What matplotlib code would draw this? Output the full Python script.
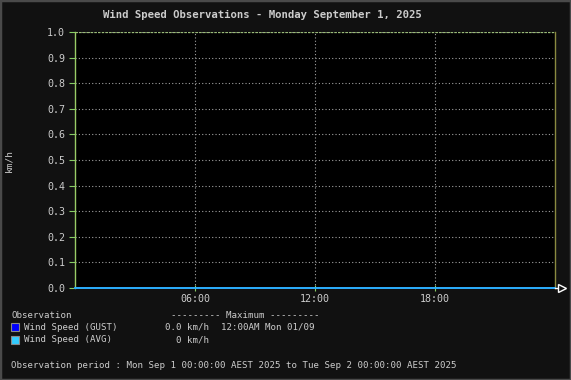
import matplotlib
matplotlib.use("Agg")
import matplotlib.pyplot as plt
from matplotlib.patches import Rectangle
import numpy as np

# ---- data ----
hours = [0, 1, 2, 3, 4, 5, 6, 7, 8, 9, 10, 11, 12, 13, 14, 15, 16, 17, 18, 19, 20, 21, 22, 23, 24]
gust = [0.0, 0.0, 0.0, 0.0, 0.0, 0.0, 0.0, 0.0, 0.0, 0.0, 0.0, 0.0, 0.0,
        0.0, 0.0, 0.0, 0.0, 0.0, 0.0, 0.0, 0.0, 0.0, 0.0, 0.0, 0.0]
avg = [0.0, 0.0, 0.0, 0.0, 0.0, 0.0, 0.0, 0.0, 0.0, 0.0, 0.0, 0.0, 0.0,
       0.0, 0.0, 0.0, 0.0, 0.0, 0.0, 0.0, 0.0, 0.0, 0.0, 0.0, 0.0]
x_ticks = [6, 12, 18]
x_tick_labels = ["06:00", "12:00", "18:00"]
y_ticks = [0.0, 0.1, 0.2, 0.3, 0.4, 0.5, 0.6, 0.7, 0.8, 0.9, 1.0]
y_tick_labels = ["0.0", "0.1", "0.2", "0.3", "0.4", "0.5", "0.6", "0.7", "0.8", "0.9", "1.0"]

title = "Wind Speed Observations - Monday September 1, 2025"
ylabel = "km/h"
series_names = ["Wind Speed (GUST)", "Wind Speed (AVG)"]
series_colors = ["#0000ff", "#33ccff"]
max_values = ["0.0 km/h", "0 km/h"]
max_time = "12:00AM Mon 01/09"
period_text = "Observation period : Mon Sep 1 00:00:00 AEST 2025 to Tue Sep 2 00:00:00 AEST 2025"

W, H = 571, 380
FONT = "DejaVu Sans Mono"
TXT = "#cccccc"
BG = "#111111"

fig = plt.figure(figsize=(W / 100, H / 100), dpi=100, facecolor=BG)

def fx(px):
    return px / W

def fy(py):
    return 1 - py / H

# outer border
fig.patches.append(Rectangle((0, 0), 1, 1, transform=fig.transFigure,
                             fill=False, edgecolor="#4a4a4a", linewidth=2.5))

ax = fig.add_axes([fx(75), fy(288), fx(555) - fx(75), fy(32) - fy(288)])
ax.set_facecolor("#000000")
ax.set_xlim(0, 24)
ax.set_ylim(0, 1.0)

# grid
for yv in y_ticks[1:]:
    ax.axhline(yv, color="#a0a0a0", linewidth=0.8, linestyle=(0, (1, 2)), zorder=1)
for xv in x_ticks:
    ax.axvline(xv, color="#a0a0a0", linewidth=0.8, linestyle=(0, (1, 2)), zorder=1)

# data
ax.plot(hours, gust, color=series_colors[0], linewidth=1.2, zorder=3, clip_on=False)
ax.plot(hours, avg, color=series_colors[1], linewidth=1.2, zorder=4, clip_on=False)

ax.set_xticks(x_ticks)
ax.set_xticklabels(x_tick_labels)
ax.set_yticks(y_ticks)
ax.set_yticklabels(y_tick_labels)
ax.tick_params(axis="both", colors="#88cc66", labelcolor=TXT, length=4, width=0.8,
               labelsize=7.2, direction="out")
ax.tick_params(axis="x", direction="inout", length=5, pad=2)
for lab in ax.get_xticklabels() + ax.get_yticklabels():
    lab.set_fontfamily(FONT)
ax.tick_params(axis="y", pad=3)

for s in ["top", "bottom"]:
    ax.spines[s].set_visible(False)
ax.spines["left"].set_color("#99cc66")
ax.spines["left"].set_linewidth(1.0)
ax.spines["right"].set_color("#8a8a40")
ax.spines["right"].set_linewidth(1.0)
ax.axhline(1.0, color="#99bb77", linewidth=0.9, linestyle=(0, (2, 1)), zorder=2)

# axis arrow (hollow triangle)
ax.plot([1.0, 1.0 + 4 / 480], [0, 0], transform=ax.transAxes, color="white",
        linewidth=1.0, clip_on=False, zorder=5)
ax.plot([1.0 + 7 / 480], [0], transform=ax.transAxes, marker=">", markersize=6,
        markerfacecolor=BG, markeredgecolor="white", markeredgewidth=1.0,
        clip_on=False, zorder=6)

ax.set_ylabel(ylabel, color=TXT, fontfamily=FONT, fontsize=6.8, labelpad=0)
ax.yaxis.set_label_coords((13 - 75) / 480, 0.5)

fig.text(fx(262), fy(15), title, color=TXT, fontfamily=FONT, fontsize=7.7,
         fontweight="bold", ha="center", va="center")

fs = 6.55
fig.text(fx(11), fy(315), "Observation", color=TXT, fontfamily=FONT, fontsize=fs, va="center")
fig.text(fx(171), fy(315), "--------- Maximum ---------", color=TXT, fontfamily=FONT,
         fontsize=fs, va="center")
rows_y = [327, 340]
for i, (name, col, mv) in enumerate(zip(series_names, series_colors, max_values)):
    y = rows_y[i]
    fig.patches.append(Rectangle((fx(11), fy(y + 4)), fx(8), fy(y - 4) - fy(y + 4),
                                 transform=fig.transFigure, facecolor=col,
                                 edgecolor="#888888", linewidth=0.8))
    fig.text(fx(24), fy(y), name, color=TXT, fontfamily=FONT, fontsize=fs, va="center")
    fig.text(fx(209), fy(y), mv, color=TXT, fontfamily=FONT, fontsize=fs,
             va="center", ha="right")
fig.text(fx(221), fy(rows_y[0]), max_time, color=TXT, fontfamily=FONT, fontsize=fs, va="center")
fig.text(fx(11), fy(366), period_text, color=TXT, fontfamily=FONT, fontsize=fs, va="center")

fig.savefig("out.png", dpi=100, facecolor=BG)
